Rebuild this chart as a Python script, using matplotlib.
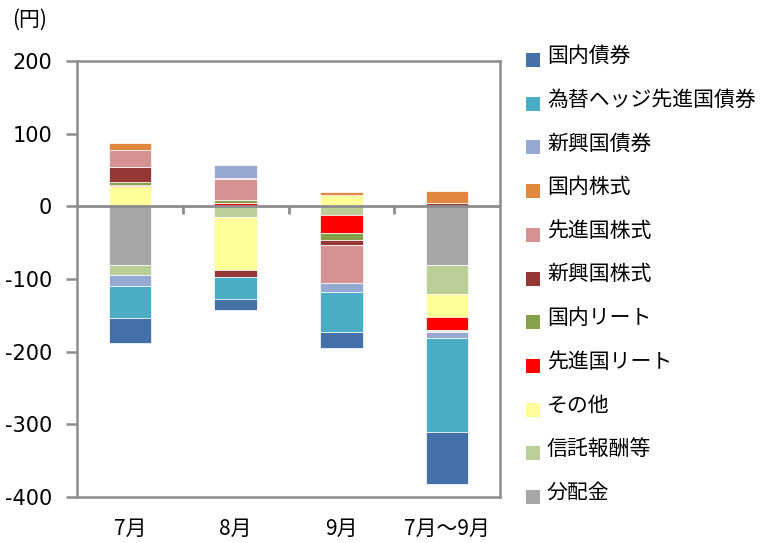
import numpy as np
import matplotlib
matplotlib.use("Agg")
import matplotlib.pyplot as plt
from matplotlib.patches import Rectangle

categories = ["7月", "8月", "9月", "7月～9月"]

# legend order (top to bottom)
series_names = ["国内債券", "為替ヘッジ先進国債券", "新興国債券", "国内株式", "先進国株式",
                "新興国株式", "国内リート", "先進国リート", "その他", "信託報酬等", "分配金"]
series_colors = ["#4472A8", "#4BACC6", "#95A9D2", "#E0883E", "#D59292",
                 "#953735", "#87A04A", "#FF0000", "#FFFF99", "#BBCE98", "#A6A6A6"]

kokunai_saiken = [-34, -15, -22, -71]
hedge_senshin_saiken = [-45, -30, -55, -130]
shinko_saiken = [-14, 18, -12, -8]
kokunai_kabu = [10, 2, 5, 17]
senshin_kabu = [23, 28, -53, -2]
shinko_kabu = [20, -9, -7, 4]
kokunai_reit = [4, 4, -9, -1]
senshin_reit = [2, 5, -25, -18]
sonota = [28, -74, 15, -31]
shintaku = [-14, -14, -12, -40]
bunpaikin = [-81, 0, 0, -81]

series_values = [kokunai_saiken, hedge_senshin_saiken, shinko_saiken, kokunai_kabu,
                 senshin_kabu, shinko_kabu, kokunai_reit, senshin_reit, sonota,
                 shintaku, bunpaikin]

yticks = [200, 100, 0, -100, -200, -300, -400]

JP = ["Noto Sans CJK JP", "DejaVu Sans"]
NUM = ["DejaVu Sans", "Noto Sans CJK JP"]
GRAY = "#8C8C8C"

fig = plt.figure(figsize=(7.6, 5.43), dpi=100)
W, H = 760, 543
ax = fig.add_axes([77 / W, 1 - 497 / H, (500 - 77) / W, (497 - 61) / H])

x = np.arange(len(categories))
pos_bottom = np.zeros(len(categories))
neg_bottom = np.zeros(len(categories))
# stacking order from zero outward is reverse legend order
for name, color, vals in reversed(list(zip(series_names, series_colors, series_values))):
    v = np.array(vals, dtype=float)
    bottoms = np.where(v >= 0, pos_bottom, neg_bottom)
    ax.bar(x, v, width=0.4, bottom=bottoms, color=color, edgecolor="white",
           linewidth=0.5, zorder=3)
    pos_bottom = pos_bottom + np.where(v >= 0, v, 0)
    neg_bottom = neg_bottom + np.where(v < 0, v, 0)

ax.set_xlim(-0.5, len(categories) - 0.5)
ax.set_ylim(-400, 200)

# zero line with category separators
ax.axhline(0, color=GRAY, lw=2, zorder=4)
ax.vlines(np.arange(len(categories) - 1) + 0.5, -11, 0, color=GRAY, lw=2, zorder=4)

for s in ax.spines.values():
    s.set_color(GRAY)
    s.set_linewidth(1.8)

ax.set_yticks(yticks)
ax.set_yticklabels([str(t) for t in yticks], fontsize=15, family=NUM)
ax.tick_params(axis="y", length=8, width=1.8, color=GRAY, pad=10)
ax.set_xticks(x)
ax.set_xticklabels(categories, fontsize=15, family=JP)
ax.tick_params(axis="x", length=0, pad=15)

fig.text(12 / W, 1 - 20 / H, "(円)", fontsize=15, family=JP, ha="left", va="center")

# legend
for i, (name, color) in enumerate(zip(series_names, series_colors)):
    yc = 60 + i * 43.7
    fig.patches.append(Rectangle((526 / W, 1 - (yc + 7) / H), 14 / W, 14 / H,
                                 transform=fig.transFigure, facecolor=color,
                                 edgecolor="none"))
    fig.text(547 / W, 1 - (yc - 4) / H, name, fontsize=15, family=JP,
             ha="left", va="center")

fig.savefig("out.png", dpi=100)
